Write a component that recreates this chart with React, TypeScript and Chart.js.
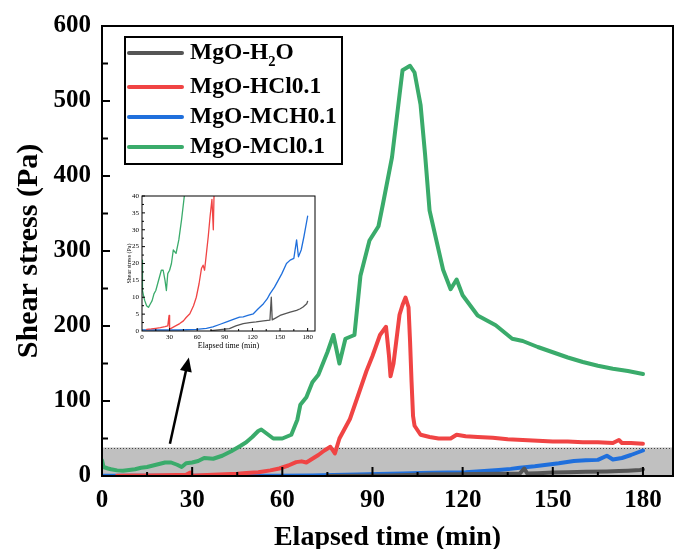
import React, { useEffect, useRef } from 'react';
import { Chart, registerables } from 'chart.js';

Chart.register(...registerables);

// ---------- data ----------
const SERIES_LABELS = ['MgO-H₂O', 'MgO-HCl0.1', 'MgO-MCH0.1', 'MgO-MCl0.1'];
const SERIES_COLORS = ['#555555', '#f04444', '#1f6fdc', '#3aab6b'];

const h2oTime = [75, 85, 95, 102, 110, 117, 124, 132, 139, 140.5, 141.5, 145, 150, 155, 161, 168, 172, 175, 179, 180];
const h2oStress = [0.1, 0.4, 0.7, 1.5, 2.2, 2.5, 2.7, 3, 3.2, 10, 3.3, 3.8, 4.6, 5.1, 5.6, 6.1, 6.6, 7.1, 8.1, 8.8];

const hclTime = [5, 10, 15, 20, 25, 28, 29.4, 30, 33, 37, 41, 45, 48, 52, 56, 59, 62, 64.6, 66.4, 68, 70, 72, 74, 76, 77.5, 79, 82.5, 85, 88, 90, 92.5, 94.5, 95.5, 96, 97, 99, 100, 101, 102, 102.5, 103, 103.5, 104, 106, 109, 112, 116, 118, 121, 125, 130, 135, 140, 145, 150, 155, 160, 165, 170, 172, 173, 176, 180];
const hclStress = [0.5, 0.6, 0.8, 1, 1.3, 1.5, 4.6, 0.5, 1, 1.6, 2.2, 3, 4, 5.1, 7.5, 10, 14, 18.5, 19.5, 18, 23, 28, 34, 39, 30, 50, 76, 105, 140, 160, 188, 199, 160, 133, 150, 215, 228, 238, 225, 180, 126, 80, 67, 55, 52, 50, 50, 55, 53, 52, 51, 49, 48, 47, 46, 46, 45, 45, 44, 48, 44, 44, 43];

const mchTime = [0, 20, 40, 59, 70, 77, 85, 92, 100, 106, 110, 115, 121, 126, 132, 136, 139, 144, 148, 152, 157, 161, 165, 168, 170, 173, 176, 178, 180];
const mchStress = [0.3, 0.3, 0.3, 0.5, 0.8, 1.2, 2, 2.7, 3.5, 4.1, 4.2, 4.6, 5.1, 6.5, 8.1, 9.5, 11, 13, 15, 17, 20, 21, 21.5, 27, 22, 24, 28, 31, 34];

const mclTime = [0, 0.5, 2, 3, 5, 7, 9, 11, 13, 15, 17, 19, 21, 23, 25, 26.5, 28, 30, 32, 34, 37, 40, 43, 46, 48, 50, 52, 53, 55, 57, 60, 63, 65, 66, 68, 70, 72, 74, 75, 77, 79, 81, 84, 86, 89, 92, 93.5, 96.5, 99, 100, 102.5, 104, 106, 107.5, 109, 111.5, 113.5, 116, 118, 120, 125, 131, 136.5, 140, 145, 150, 155, 160, 165, 170, 175, 180];
const mclStress = [21, 12, 10, 9, 7.5, 7, 8, 9, 11, 12, 14, 16, 18, 18, 15, 12, 17, 18, 20, 24, 23, 27, 33, 40, 45, 52, 60, 62, 56, 50, 50, 55, 75, 95, 105, 125, 135, 155, 165, 188, 150, 183, 188, 267, 314, 333, 363, 425, 508, 541, 547, 538, 495, 429, 354, 310, 275, 249, 262, 241, 214, 201, 183, 180, 172, 165, 158, 152, 147, 143, 140, 136];

const X_TICKS = [0, 30, 60, 90, 120, 150, 180];
const Y_TICKS = [0, 100, 200, 300, 400, 500, 600];
const INSET_Y_TICKS = [0, 5, 10, 15, 20, 25, 30, 35, 40];
const SHADE_LIMIT = 38;
const ARROW_FROM = { x: 22.6, y: 43 };
const ARROW_TO = { x: 28.9, y: 158 };

const FONT = '"Liberation Serif", "Times New Roman", serif';

const SERIES = [
  { time: h2oTime, stress: h2oStress },
  { time: hclTime, stress: hclStress },
  { time: mchTime, stress: mchStress },
  { time: mclTime, stress: mclStress },
];

function makeDatasets(width: number) {
  return SERIES.map((s, i) => ({
    label: SERIES_LABELS[i],
    data: s.time.map((t, j) => ({ x: t, y: s.stress[j] })),
    borderColor: SERIES_COLORS[i],
    backgroundColor: SERIES_COLORS[i],
    borderWidth: width,
    pointRadius: 0,
    tension: 0,
    fill: false,
    borderJoinStyle: 'round' as const,
    borderCapStyle: 'round' as const,
  }));
}

function framePlugin(id: string, o: any) {
  return {
    id,
    afterDatasetsDraw(chart: any) {
      const { ctx, chartArea: a, scales } = chart;
      const x = scales.x;
      const y = scales.y;
      ctx.save();
      ctx.strokeStyle = '#000';
      ctx.lineWidth = o.lineWidth;
      ctx.beginPath();
      for (let v = o.xMinor; v <= o.xLast; v += o.xMinor) {
        const px = x.getPixelForValue(v);
        const major = Math.abs(v / o.xMajor - Math.round(v / o.xMajor)) < 1e-6;
        ctx.moveTo(px, a.bottom);
        ctx.lineTo(px, a.bottom - (major ? o.xMajorLen : o.xMinorLen));
      }
      for (let v = o.yMinor; v <= o.yLast; v += o.yMinor) {
        const py = y.getPixelForValue(v);
        const major = Math.abs(v / o.yMajor - Math.round(v / o.yMajor)) < 1e-6;
        ctx.moveTo(a.left, py);
        ctx.lineTo(a.left + (major ? o.yMajorLen : o.yMinorLen), py);
      }
      ctx.stroke();
      ctx.strokeRect(a.left, a.top, a.right - a.left, a.bottom - a.top);
      ctx.restore();
    },
  };
}

const shadePlugin = {
  id: 'shade',
  beforeDatasetsDraw(chart: any) {
    const { ctx, chartArea: a, scales } = chart;
    const top = scales.y.getPixelForValue(SHADE_LIMIT);
    ctx.save();
    ctx.fillStyle = '#c0c0c0';
    ctx.fillRect(a.left, top, a.right - a.left, a.bottom - top);
    ctx.strokeStyle = '#444';
    ctx.lineWidth = 1;
    ctx.setLineDash([1, 2]);
    ctx.beginPath();
    ctx.moveTo(a.left, Math.round(top) + 0.5);
    ctx.lineTo(a.right, Math.round(top) + 0.5);
    ctx.stroke();
    ctx.restore();
  },
};

function drawRichLabel(ctx: CanvasRenderingContext2D, text: string, x: number, y: number, size: number) {
  const subs = '₀₁₂₃₄₅₆₇₈₉';
  const runs: { t: string; sub: boolean }[] = [];
  for (const ch of text) {
    const k = subs.indexOf(ch);
    const sub = k >= 0;
    const c = sub ? String(k) : ch;
    if (runs.length && runs[runs.length - 1].sub === sub) runs[runs.length - 1].t += c;
    else runs.push({ t: c, sub });
  }
  let cx = x;
  for (const r of runs) {
    const s = r.sub ? size * 0.62 : size;
    ctx.font = `bold ${s}px ${FONT}`;
    ctx.fillText(r.t, cx, r.sub ? y + size * 0.4 : y);
    cx += ctx.measureText(r.t).width;
  }
}

const annotPlugin = {
  id: 'annot',
  afterDraw(chart: any) {
    const { ctx, scales } = chart;
    // arrow
    const x0 = scales.x.getPixelForValue(ARROW_FROM.x);
    const y0 = scales.y.getPixelForValue(ARROW_FROM.y);
    const x1 = scales.x.getPixelForValue(ARROW_TO.x);
    const y1 = scales.y.getPixelForValue(ARROW_TO.y);
    const ang = Math.atan2(y1 - y0, x1 - x0);
    const headLen = 14;
    const headW = 6;
    ctx.save();
    ctx.strokeStyle = '#000';
    ctx.fillStyle = '#000';
    ctx.lineWidth = 2.5;
    ctx.beginPath();
    ctx.moveTo(x0, y0);
    ctx.lineTo(x1 - Math.cos(ang) * headLen * 0.8, y1 - Math.sin(ang) * headLen * 0.8);
    ctx.stroke();
    ctx.beginPath();
    ctx.moveTo(x1, y1);
    ctx.lineTo(x1 - Math.cos(ang) * headLen - Math.sin(ang) * headW, y1 - Math.sin(ang) * headLen + Math.cos(ang) * headW);
    ctx.lineTo(x1 - Math.cos(ang) * headLen + Math.sin(ang) * headW, y1 - Math.sin(ang) * headLen - Math.cos(ang) * headW);
    ctx.closePath();
    ctx.fill();

    // legend box
    const bx = 125, by = 37, bw = 217, bh = 127;
    const rows = [16, 50, 80, 110];
    ctx.fillStyle = '#fff';
    ctx.fillRect(bx, by, bw, bh);
    ctx.lineWidth = 2;
    ctx.strokeStyle = '#000';
    ctx.strokeRect(bx, by, bw, bh);
    chart.data.datasets.forEach((ds: any, i: number) => {
      const ry = by + rows[i];
      ctx.strokeStyle = ds.borderColor;
      ctx.lineWidth = 4;
      ctx.lineCap = 'round';
      ctx.beginPath();
      ctx.moveTo(bx + 4, ry);
      ctx.lineTo(bx + 57, ry);
      ctx.stroke();
      ctx.fillStyle = '#000';
      ctx.textBaseline = 'middle';
      ctx.textAlign = 'left';
      drawRichLabel(ctx, ds.label, bx + 65, ry, 23.5);
    });
    ctx.restore();
  },
};

function mainConfig(): any {
  return {
    type: 'line',
    data: { datasets: makeDatasets(4) },
    options: {
      animation: false,
      responsive: false,
      maintainAspectRatio: false,
      devicePixelRatio: 1,
      layout: { padding: { top: 20, right: 8, left: 0, bottom: 0 } },
      plugins: { legend: { display: false }, tooltip: { enabled: false } },
      scales: {
        x: {
          type: 'linear',
          min: 0,
          max: 190,
          afterBuildTicks: (s: any) => { s.ticks = X_TICKS.map((value) => ({ value })); },
          afterFit: (s: any) => { s.height = 73; },
          grid: { display: false, drawTicks: false, tickLength: 0 },
          border: { display: false },
          ticks: { color: '#000', padding: 10, autoSkip: false, maxRotation: 0, font: { family: FONT, size: 25, weight: 'bold' } },
          title: { display: true, text: 'Elapsed time (min)', color: '#000', padding: { top: 0, bottom: 0 }, font: { family: FONT, size: 28, weight: 'bold', lineHeight: 0.82 } },
        },
        y: {
          type: 'linear',
          min: 0,
          max: 600,
          afterBuildTicks: (s: any) => { s.ticks = Y_TICKS.map((value) => ({ value })); },
          afterFit: (s: any) => { s.width = 102; },
          grid: { display: false, drawTicks: false, tickLength: 0 },
          border: { display: false },
          ticks: { color: '#000', padding: 11, autoSkip: false, font: { family: FONT, size: 25, weight: 'bold' } },
          title: { display: true, text: 'Shear stress (Pa)', color: '#000', padding: { top: 11, bottom: 0 }, font: { family: FONT, size: 30, weight: 'bold' } },
        },
      },
    },
    plugins: [
      shadePlugin,
      framePlugin('mainFrame', { lineWidth: 2, xMinor: 15, xMajor: 30, xLast: 180, xMajorLen: 9, xMinorLen: 4, yMinor: 50, yMajor: 100, yLast: 600, yMajorLen: 8, yMinorLen: 6 }),
      annotPlugin,
    ],
  };
}

function insetConfig(): any {
  return {
    type: 'line',
    data: { datasets: makeDatasets(1.3) },
    options: {
      animation: false,
      responsive: false,
      maintainAspectRatio: false,
      devicePixelRatio: 1,
      layout: { padding: { top: 8, right: 10, left: 0, bottom: 0 } },
      plugins: { legend: { display: false }, tooltip: { enabled: false } },
      scales: {
        x: {
          type: 'linear',
          min: 0,
          max: 188,
          afterBuildTicks: (s: any) => { s.ticks = X_TICKS.map((value) => ({ value })); },
          afterFit: (s: any) => { s.height = 25; },
          grid: { display: false, drawTicks: false, tickLength: 0 },
          border: { display: false },
          ticks: { color: '#000', padding: 2, autoSkip: false, maxRotation: 0, font: { family: FONT, size: 7 } },
          title: { display: true, text: 'Elapsed time (min)', color: '#000', padding: { top: 0, bottom: 5 }, font: { family: FONT, size: 8 } },
        },
        y: {
          type: 'linear',
          min: 0,
          max: 40,
          afterBuildTicks: (s: any) => { s.ticks = INSET_Y_TICKS.map((value) => ({ value })); },
          afterFit: (s: any) => { s.width = 32; },
          grid: { display: false, drawTicks: false, tickLength: 0 },
          border: { display: false },
          ticks: { color: '#000', padding: 3, autoSkip: false, font: { family: FONT, size: 7 } },
          title: { display: true, text: 'Shear stress (Pa)', color: '#000', padding: { top: 16, bottom: 0 }, font: { family: FONT, size: 6 } },
        },
      },
    },
    plugins: [
      framePlugin('insetFrame', { lineWidth: 1, xMinor: 15, xMajor: 30, xLast: 180, xMajorLen: 3, xMinorLen: 2, yMinor: 2.5, yMajor: 5, yLast: 40, yMajorLen: 3, yMinorLen: 2 }),
    ],
  };
}

export default function App() {
  const mainRef = useRef<HTMLCanvasElement>(null);
  const insetRef = useRef<HTMLCanvasElement>(null);
  useEffect(() => {
    const main = new Chart(mainRef.current as HTMLCanvasElement, mainConfig());
    const inset = new Chart(insetRef.current as HTMLCanvasElement, insetConfig());
    return () => {
      main.destroy();
      inset.destroy();
    };
  }, []);
  return (
    <div style={{ position: 'absolute', left: 0, top: 0, width: 681, height: 549, background: '#fff' }}>
      <canvas ref={mainRef} width={681} height={549} style={{ position: 'absolute', left: 0, top: 0, width: 681, height: 549 }} />
      <canvas ref={insetRef} width={215} height={168} style={{ position: 'absolute', left: 110, top: 188, width: 215, height: 168 }} />
    </div>
  );
}
